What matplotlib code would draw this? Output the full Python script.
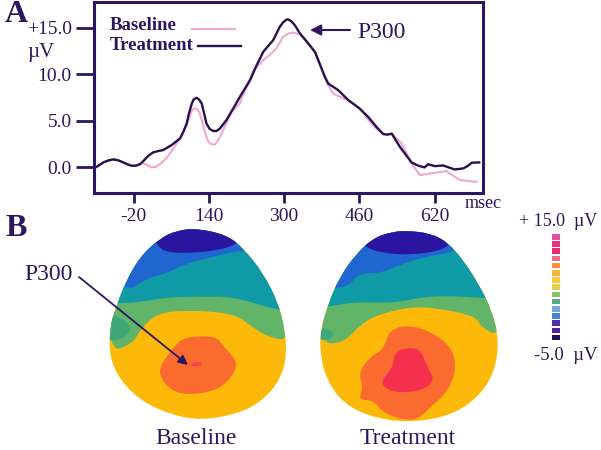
import matplotlib
matplotlib.use("Agg")
import matplotlib.pyplot as plt
from matplotlib.patches import PathPatch, Rectangle
from matplotlib.path import Path

ink = "#2e1560"
plt.rcParams["font.family"] = ["Liberation Serif", "DejaVu Serif"]

# curves, ms / microvolt
treat_x = [-102, -93, -84, -73, -63, -52, -42, -33, -24, -15, -6, 1, 8, 15, 22, 32, 43, 61, 79, 86, 93, 98, 104, 108, 114, 119, 125,
           130, 135, 142, 150, 157, 164, 178, 192, 210, 228, 242, 256, 267, 277, 284, 291, 298, 305, 309, 316, 323, 334, 352,
           366, 380, 387, 394, 415, 437, 461, 479, 497, 511, 520, 529,
           546, 571, 585, 599, 606, 621, 638, 663, 681, 690, 699, 715]
treat_y = [-0.08, 0.2, 0.5, 0.72, 0.82, 0.72, 0.5, 0.3, 0.14, 0.14, 0.32, 0.65, 1.04, 1.35, 1.58, 1.72, 1.83, 2.37, 3.09, 3.8, 4.7, 5.8, 6.86, 7.3, 7.47, 7.3, 6.86,
           5.8, 4.7, 4.1, 3.88, 3.9, 4.17, 5.1, 6.32, 7.9, 9.38, 11.0, 12.44, 13.1, 13.69, 14.4, 15.13, 15.6, 15.9, 15.92, 15.7, 15.3, 14.4, 13.3,
           12.4, 10.6, 9.7, 9.0, 8.3, 7.2, 6.3, 5.4, 4.3, 3.55, 3.5, 3.6,
           2.2, 0.5, 0.15, -0.04, 0.3, 0.1, 0.17, -0.26, -0.15, 0.1, 0.46, 0.5]
base_x = [-102, -93, -84, -73, -63, -52, -42, -33, -24, -15, -6, 1, 10, 18, 27, 36, 47, 58, 79, 93, 100, 104, 109, 114, 120, 125, 132, 139, 146, 153,
          160, 167, 189, 206, 220,
          235, 256, 270, 284, 298, 309, 320, 334, 352, 366, 380, 394, 405, 426, 437, 461, 482, 497, 511, 520, 529,
          550, 571, 589, 645, 674, 709]
base_y = [-0.08, 0.2, 0.5, 0.72, 0.82, 0.72, 0.5, 0.3, 0.14, 0.2, 0.3, 0.4, 0.2, -0.04, 0.02, 0.3, 0.8, 1.47, 3.09, 4.5, 5.5, 6.1, 6.3, 6.3, 5.9, 5.07, 3.7, 2.73, 2.45, 2.44,
          2.9, 3.63, 5.96, 6.86, 8.6,
          10.46, 11.54, 12.1, 12.8, 14.05, 14.4, 14.5, 14.3, 13.3, 12.4, 10.6, 8.8, 7.9, 7.4, 7.2, 6.3, 4.9, 4.1, 3.55, 3.5, 3.6,
          2.55, 0.4, -0.87, -0.44, -1.4, -1.6]
x_ticks = [-20, 140, 300, 460, 620]
y_ticks = [0, 5, 10, 15]
y_labels = ["0.0", "5.0", "10.0", "+15.0"]

# scalp map regions, traced at 3x from the top-left of each map crop
base_head = [(590, 55), (680, 75), (730, 115), (790, 190), (835, 280), (855, 360), (860, 440), (840, 510), (790, 570),
             (720, 610), (600, 632), (500, 610), (420, 570), (360, 510), (328, 440), (330, 350), (345, 300), (375, 220),
             (420, 140), (480, 85), (530, 62)]
base_blue = [(340, 235), (375, 230), (400, 235), (440, 205), (500, 190), (560, 160), (640, 140), (700, 125), (760, 120), (760, 30), (340, 30)]
base_indigo = [(440, 70), (470, 100), (490, 125), (560, 130), (650, 122), (720, 100), (740, 40), (440, 40)]
base_teal = [(320, 280), (360, 280), (430, 275), (500, 262), (600, 260), (700, 260), (830, 300), (880, 300), (880, 30), (320, 30)]
base_green = [(320, 430), (400, 400), (420, 360), (470, 310), (560, 300), (700, 310), (750, 345), (800, 380), (880, 395), (880, 30), (320, 30)]
base_blob = [(320, 310), (360, 320), (395, 350), (380, 380), (340, 392), (320, 390)]
base_orange = [(480, 470), (500, 440), (530, 400), (560, 380), (650, 378), (670, 410), (700, 440), (712, 465), (690, 510),
               (640, 545), (560, 555), (510, 540), (480, 500)]
base_spot = [(570, 458), (605, 455), (605, 468), (575, 470)]

treat_head = [(320, 62), (390, 70), (440, 95), (490, 150), (540, 230), (575, 300), (595, 380), (590, 460), (560, 530),
              (500, 590), (420, 625), (310, 637), (210, 620), (130, 580), (80, 510), (60, 430), (62, 360), (85, 280),
              (120, 200), (170, 130), (220, 85), (270, 67)]
treat_blue = [(80, 235), (105, 235), (150, 225), (175, 190), (240, 190), (300, 165), (370, 140), (480, 125), (480, 30), (80, 30)]
treat_indigo = [(170, 80), (195, 112), (250, 130), (340, 135), (430, 120), (460, 90), (460, 40), (170, 40)]
treat_teal = [(50, 290), (85, 290), (170, 275), (280, 280), (400, 255), (560, 265), (600, 265), (600, 30), (50, 30)]
treat_green = [(50, 400), (130, 400), (180, 345), (230, 315), (330, 290), (420, 295), (530, 320), (540, 350), (610, 385), (610, 30), (50, 30)]
treat_blob = [(55, 355), (85, 355), (105, 375), (85, 390), (55, 390)]
treat_orange = [(175, 490), (210, 440), (250, 420), (270, 355), (340, 345), (420, 380), (465, 430), (465, 500), (430, 560),
                (390, 590), (370, 615), (330, 635), (250, 610), (220, 570), (175, 570), (190, 530)]
treat_red = [(245, 510), (280, 470), (285, 420), (360, 410), (380, 470), (405, 510), (370, 540), (290, 550), (250, 530)]

scale_colors = ["#e24fa0", "#e8307f", "#e82c6c", "#ec6e86", "#f49440", "#f9b43c", "#f9c83c", "#e0d050",
                "#8fc070", "#5aa890", "#70a8d8", "#4a80d0", "#5030b0", "#5020a8", "#201050"]

fig = plt.figure(figsize=(6.01, 4.5), dpi=100)

# ERP panel
ax = fig.add_axes([94 / 601, 1 - 193 / 450, 389 / 601, 191 / 450])
ax.plot(base_x, base_y, color="#f0a8d0", lw=1.5, solid_joinstyle="round")
ax.plot(treat_x, treat_y, color="#2a1050", lw=1.7, solid_joinstyle="round")
ax.set_xlim(-104, 723)
ax.set_ylim(-2.8, 17.8)
ax.set_xticks(x_ticks)
ax.set_xticklabels([str(t) for t in x_ticks], fontsize=14, color=ink)
ax.set_yticks(y_ticks)
ax.set_yticklabels(y_labels, fontsize=14, color=ink)
ax.tick_params(axis="x", length=7, width=2, color=ink, pad=4)
ax.tick_params(axis="y", length=13, width=2, color=ink, pad=3)
for s in ax.spines.values():
    s.set_color(ink)
    s.set_linewidth(2.2)

# everything else sits on a pixel overlay
ov = fig.add_axes([0, 0, 1, 1])
ov.set_xlim(0, 601)
ov.set_ylim(450, 0)
ov.axis("off")
ov.patch.set_alpha(0)


def blob(x0, y0, pts, col):
    # closed shape rounded through the midpoints of the traced corners
    pts = [(x0 + a / 3, y0 + b / 3) for a, b in pts]
    n = len(pts)
    mid = [((pts[i][0] + pts[(i + 1) % n][0]) / 2, (pts[i][1] + pts[(i + 1) % n][1]) / 2) for i in range(n)]
    verts = [mid[-1]]
    codes = [Path.MOVETO]
    for i in range(n):
        verts += [pts[i], mid[i]]
        codes += [Path.CURVE3, Path.CURVE3]
    return PathPatch(Path(verts, codes), fc=col, ec="none")


def draw_map(x0, y0, head, layers):
    outline = blob(x0, y0, head, "#fdb90a")
    ov.add_patch(outline)
    for pts, col in layers:
        p = blob(x0, y0, pts, col)
        ov.add_patch(p)
        p.set_clip_path(outline)


draw_map(0, 210, base_head, [(base_green, "#62b468"), (base_blob, "#3fa878"), (base_teal, "#0f9aa6"),
                             (base_blue, "#1f66d0"), (base_indigo, "#2a14a0"), (base_orange, "#fb6a2e"),
                             (base_spot, "#f5404e")])
draw_map(300, 210, treat_head, [(treat_green, "#62b468"), (treat_blob, "#3fa878"), (treat_teal, "#0f9aa6"),
                                (treat_blue, "#1f66d0"), (treat_indigo, "#2a14a0"), (treat_orange, "#fb6a2e"),
                                (treat_red, "#f5304e")])

for i, c in enumerate(scale_colors):
    ov.add_patch(Rectangle((551.5, 234 + i * 7.2), 8, 5.6, fc=c, ec="none"))

ov.text(5, 15, "A", fontsize=23, fontweight="bold", color=ink, va="center")
ov.text(5, 229, "B", fontsize=23, fontweight="bold", color=ink, va="center")
ov.text(41, 52, "µV", fontsize=15, color=ink, ha="center", va="center")
ov.text(483, 203, "msec", fontsize=13, color=ink, ha="center", va="center")

ov.text(110, 26, "Baseline", fontsize=13.5, fontweight="bold", color=ink, va="center")
ov.text(110, 45, "Treatment", fontsize=13.5, fontweight="bold", color=ink, va="center")
ov.plot([192, 235], [29, 29], color="#f0a8d0", lw=1.5)
ov.plot([198, 241], [45.7, 45.7], color="#2a1050", lw=1.7)

ov.annotate("", xy=(310, 30), xytext=(350, 30),
            arrowprops=dict(arrowstyle="-|>", color=ink, lw=1.5, mutation_scale=16, shrinkA=0, shrinkB=0))
ov.text(357, 32, "P300", fontsize=17, color=ink, va="center")
ov.text(24, 274, "P300", fontsize=17, color=ink, va="center")
ov.annotate("", xy=(188, 365), xytext=(79, 277),
            arrowprops=dict(arrowstyle="-|>", color=ink, lw=1.3, mutation_scale=14, shrinkA=0, shrinkB=0))

ov.text(196, 439, "Baseline", fontsize=17, color=ink, ha="center", va="center")
ov.text(408, 438, "Treatment", fontsize=17, color=ink, ha="center", va="center")
ov.text(597, 221, "+ 15.0  µV", fontsize=13, color=ink, ha="right", va="center")
ov.text(597, 356, "-5.0  µV", fontsize=13.5, color=ink, ha="right", va="center")

fig.savefig("out.png", dpi=100)
